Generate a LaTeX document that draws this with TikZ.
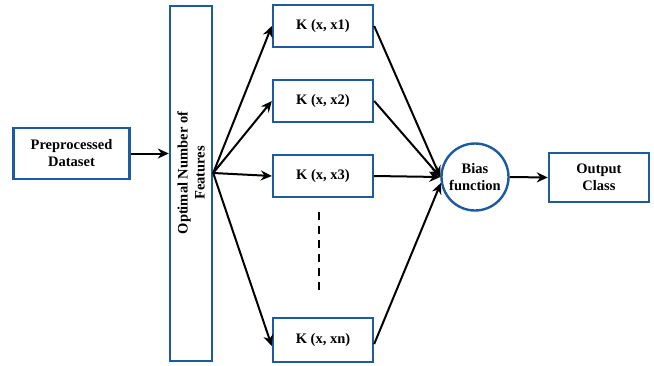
\documentclass[tikz,border=0pt]{standalone}
\usepackage{fontspec}
\setmainfont{Liberation Serif}
\usetikzlibrary{arrows.meta,calc}
\definecolor{boxblue}{RGB}{30,90,160}
\begin{document}
\begin{tikzpicture}[x=1pt,y=-1pt,
  font=\fontsize{14.5}{17}\selectfont\bfseries,
  blockbox/.style={draw=boxblue,line width=2.4pt,fill=white,align=center,inner sep=2pt},
  kbox/.style={blockbox,minimum width=100pt,minimum height=42pt},
  arr/.style={line width=2pt,-{Stealth[length=11pt,width=10pt]}}]
\useasboundingbox (0,0) rectangle (654,365);

% input and feature column
\node[blockbox,minimum width=116pt,minimum height=51pt] (pre) at (71.5,153.5) {Preprocessed\\Dataset};
\node[blockbox,minimum width=42pt,minimum height=355pt] (feat) at (191,183.5) {};
\node[rotate=90,align=center,inner sep=0pt] (featlbl) at (191,173) {Optimal Number of\\Features};

% kernel boxes
\node[kbox] (k1) at (323,26) {K (x, x1)};
\node[kbox] (k2) at (323,101) {K (x, x2)};
\node[kbox] (k3) at (323,176) {K (x, x3)};
\node[kbox,minimum height=44pt] (kn) at (323,340) {K (x, xn)};

% bias and output
\node[draw=boxblue,line width=2.4pt,circle,minimum size=67pt,align=center,inner sep=0pt] (bias) at (475,177) {Bias\\function};
\node[blockbox,minimum width=100pt,minimum height=49pt] (out) at (599,177.5) {Output\\Class};

% connectors
\draw[arr] (pre.east) -- (feat.west |- pre.east);
\path (feat.east) ++(0,-10.5) coordinate (fan);
\draw[arr] (fan) -- (k1.west);
\draw[arr] (fan) -- (k2.west);
\draw[arr] (fan) -- (k3.west);
\draw[arr] (fan) -- ([yshift=-6pt]kn.west);

\draw[arr] (k1.east) -- (bias.west);
\draw[arr] (k2.east) -- (bias.west);
\draw[arr] (k3.east) -- (bias.west);
\draw[arr] ([yshift=-4pt]kn.east) -- (bias.190);

\draw[arr] (bias.east) -- (out.west);

% ellipsis between kernels
\coordinate (dtop) at (319,212);
\coordinate (dbot) at (319,295);
\draw[line width=2pt,dash pattern=on 8pt off 6pt] (dtop) -- (dbot);
\end{tikzpicture}
\end{document}
